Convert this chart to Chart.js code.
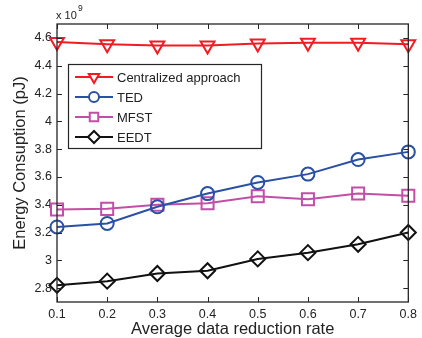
<!DOCTYPE html>
<html>
<head>
<meta charset="utf-8">
<script src="https://cdn.jsdelivr.net/npm/chart.js@4.4.0/dist/chart.umd.min.js"></script>
<style>
  html, body { margin: 0; padding: 0; background: #fff; }
  #wrap { width: 422px; height: 338px; }
</style>
</head>
<body>
<div id="wrap"><canvas id="c" width="422" height="338"></canvas></div>
<script>
// x categories (average data reduction rate)
const rates = ['0.1', '0.2', '0.3', '0.4', '0.5', '0.6', '0.7', '0.8'];

// energy values, in units of 1e9 pJ
const centralized = [4.57, 4.555, 4.545, 4.545, 4.56, 4.565, 4.565, 4.555];
const ted = [3.24, 3.265, 3.385, 3.48, 3.56, 3.62, 3.725, 3.78];
const mfst = [3.365, 3.37, 3.40, 3.41, 3.46, 3.44, 3.48, 3.465];
const eedt = [2.82, 2.85, 2.905, 2.925, 3.01, 3.055, 3.115, 3.20];

const yTicks = [2.8, 3, 3.2, 3.4, 3.6, 3.8, 4, 4.2, 4.4, 4.6];

const FONT = '"Liberation Sans", Arial, sans-serif';
const TXT = '#222';

function series(label, data, color, style, radius, legendRadius, rot) {
  return {
    label: label,
    data: data,
    borderColor: color,
    backgroundColor: 'rgba(255,255,255,0)',
    borderWidth: 2,
    pointStyle: style,
    pointRadius: radius,
    pointHoverRadius: radius,
    legendRadius: legendRadius,
    pointRotation: rot || 0,
    pointBorderWidth: 2,
    pointBorderColor: color,
    pointBackgroundColor: 'rgba(255,255,255,0)',
    tension: 0
  };
}

// box, inner ticks, titles, exponent and the legend box
const decor = {
  id: 'decor',
  afterDraw(chart) {
    const ctx = chart.ctx;
    const a = chart.chartArea;
    const xs = chart.scales.x, ys = chart.scales.y;
    ctx.save();
    ctx.strokeStyle = '#262626';
    ctx.lineWidth = 1.3;
    ctx.strokeRect(a.left, a.top, a.right - a.left, a.bottom - a.top);

    // inward ticks on all sides
    ctx.lineWidth = 1;
    const tl = 5;
    ctx.beginPath();
    rates.forEach((r, i) => {
      const px = Math.round(xs.getPixelForValue(i)) + 0.5;
      ctx.moveTo(px, a.bottom); ctx.lineTo(px, a.bottom - tl);
      ctx.moveTo(px, a.top); ctx.lineTo(px, a.top + tl);
    });
    yTicks.forEach(v => {
      const py = Math.round(ys.getPixelForValue(v)) + 0.5;
      ctx.moveTo(a.left, py); ctx.lineTo(a.left + tl, py);
      ctx.moveTo(a.right, py); ctx.lineTo(a.right - tl, py);
    });
    ctx.stroke();

    // titles
    ctx.fillStyle = TXT;
    ctx.font = '16.5px ' + FONT;
    ctx.textAlign = 'center';
    ctx.textBaseline = 'middle';
    ctx.fillText('Average data reduction rate', (a.left + a.right) / 2, 329);
    ctx.save();
    ctx.translate(20, (a.top + a.bottom) / 2);
    ctx.rotate(-Math.PI / 2);
    ctx.fillText('Energy Consuption (pJ)', 0, 0);
    ctx.restore();

    // exponent
    ctx.textAlign = 'left';
    ctx.font = '11px ' + FONT;
    ctx.fillText('x 10', 56, 16);
    ctx.font = '8.5px ' + FONT;
    ctx.fillText('9', 78, 9);

    // legend box
    const lx = 68, ly = 64, lw = 193, lh = 84;
    ctx.fillStyle = '#fff';
    ctx.fillRect(lx, ly, lw, lh);
    ctx.strokeStyle = '#262626';
    ctx.lineWidth = 1.2;
    ctx.strokeRect(lx + 0.5, ly + 0.5, lw, lh);
    const rows = [77, 97, 117, 137];
    chart.data.datasets.forEach((ds, i) => {
      const y = rows[i];
      ctx.strokeStyle = ds.borderColor;
      ctx.lineWidth = 2;
      ctx.beginPath();
      ctx.moveTo(75, y); ctx.lineTo(113, y);
      ctx.stroke();
      ctx.fillStyle = '#fff';
      Chart.helpers.drawPoint(ctx, {
        pointStyle: ds.pointStyle,
        rotation: ds.pointRotation,
        radius: ds.legendRadius,
        borderWidth: 2
      }, 94, y);
      ctx.fillStyle = TXT;
      ctx.font = '13px ' + FONT;
      ctx.textBaseline = 'middle';
      ctx.fillText(ds.label, 117, y + 1);
    });
    ctx.restore();
  }
};

new Chart(document.getElementById('c'), {
  type: 'line',
  data: {
    labels: rates,
    datasets: [
      series('Centralized approach', centralized, '#f01c24', 'triangle', 8, 6, 180),
      series('TED', ted, '#2a50a6', 'circle', 6.5, 5),
      series('MFST', mfst, '#c24ea8', 'rect', 8.5, 6),
      series('EEDT', eedt, '#111111', 'rectRot', 7.5, 6)
    ]
  },
  options: {
    responsive: false,
    animation: false,
    layout: { padding: { top: 24, right: 13, left: 0, bottom: 0 } },
    plugins: { legend: { display: false }, tooltip: { enabled: false } },
    scales: {
      x: {
        type: 'category',
        offset: false,
        grid: { display: false, drawTicks: false },
        border: { display: false },
        ticks: { color: TXT, font: { family: FONT, size: 12.5 }, padding: 5, maxRotation: 0 },
        afterFit(s) { s.height = 36; }
      },
      y: {
        min: 2.7,
        max: 4.7,
        grid: { display: false, drawTicks: false },
        border: { display: false },
        afterBuildTicks(s) { s.ticks = yTicks.map(v => ({ value: v })); },
        ticks: {
          color: TXT,
          font: { family: FONT, size: 12.5 },
          padding: 5,
          callback: v => String(Number(v.toFixed(1)))
        },
        afterFit(s) { s.width = 57; }
      }
    }
  },
  plugins: [decor]
});
</script>
</body>
</html>
